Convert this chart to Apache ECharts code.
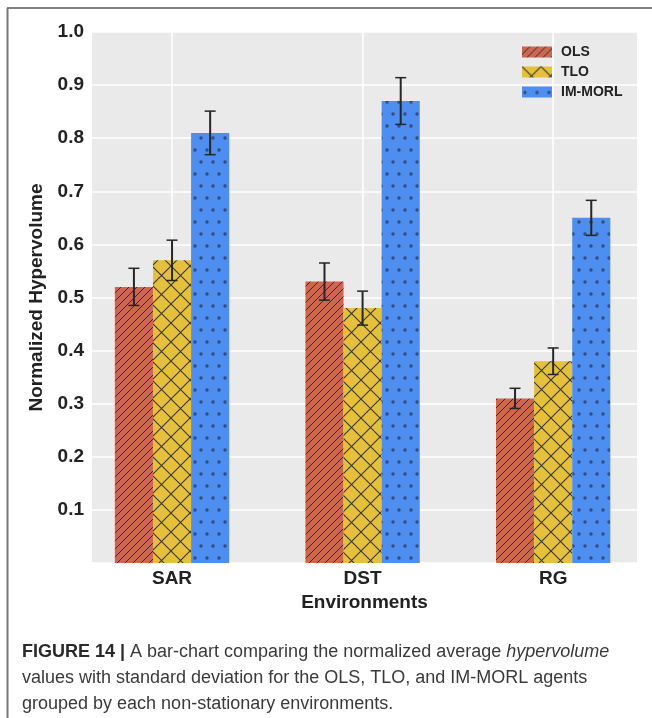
<!DOCTYPE html>
<html>
<head>
<meta charset="utf-8">
<script src="https://cdn.jsdelivr.net/npm/echarts@6/dist/echarts.min.js"></script>
<style>
html,body{margin:0;padding:0;background:#fff;}
#chart{width:652px;height:718px;}
</style>
</head>
<body>
<div id="chart"></div>
<script>
// ---- data ----
const categories = ['SAR', 'DST', 'RG'];
const seriesNames = ['OLS', 'TLO', 'IM-MORL'];
const olsMean = [0.52, 0.53, 0.31];
const olsStd = [0.035, 0.035, 0.019];
const tloMean = [0.57, 0.48, 0.38];
const tloStd = [0.038, 0.032, 0.025];
const imMean = [0.81, 0.87, 0.65];
const imStd = [0.041, 0.044, 0.033];
const yTicks = [0.1, 0.2, 0.3, 0.4, 0.5, 0.6, 0.7, 0.8, 0.9, 1.0];

// ---- hatch patterns ----
function makeTile(w, h, bg, draw) {
  const c = document.createElement('canvas');
  c.width = w; c.height = h;
  const g = c.getContext('2d');
  g.fillStyle = bg; g.fillRect(0, 0, w, h);
  g.strokeStyle = 'rgba(40,40,40,0.9)';
  g.lineWidth = 1;
  draw(g, w, h);
  return { image: c, repeat: 'repeat' };
}
const olsPattern = makeTile(8, 8, '#cb6651', function (g, s) {
  g.beginPath();
  g.moveTo(-1, s + 1); g.lineTo(s + 1, -1);
  g.moveTo(-1, 1); g.lineTo(1, -1);
  g.moveTo(s - 1, s + 1); g.lineTo(s + 1, s - 1);
  g.stroke();
});
const tloPattern = makeTile(19, 19, '#e5c03d', function (g, s) {
  g.lineWidth = 1.1;
  g.beginPath();
  g.moveTo(-1, s + 1); g.lineTo(s + 1, -1);
  g.moveTo(-1, -1); g.lineTo(s + 1, s + 1);
  g.stroke();
});
const imPattern = makeTile(12, 24, '#4f8ef1', function (g) {
  g.fillStyle = '#2d4470';
  [[3, 6], [9, 18]].forEach(function (p) {
    g.beginPath(); g.arc(p[0], p[1], 1.7, 0, Math.PI * 2); g.fill();
  });
  g.fillStyle = '#4f7fcf';
  [[3, 6], [9, 18]].forEach(function (p) {
    g.beginPath(); g.arc(p[0], p[1], 0.6, 0, Math.PI * 2); g.fill();
  });
});
const patterns = [olsPattern, tloPattern, imPattern];
const means = [olsMean, tloMean, imMean];
const stds = [olsStd, tloStd, imStd];
const offsets = [-0.2, 0, 0.2];
const barW = 0.2;

function makeSeries(k) {
  const data = categories.map(function (c, i) { return [i, means[k][i], stds[k][i]]; });
  return {
    name: seriesNames[k],
    type: 'custom',
    itemStyle: { color: patterns[k] },
    encode: { x: 0, y: 1 },
    data: data,
    z: 3 + k,
    renderItem: function (params, api) {
      const x = api.value(0) + offsets[k];
      const y = api.value(1);
      const sd = api.value(2);
      const p0 = api.coord([x - barW / 2, y]);
      const p1 = api.coord([x + barW / 2, 0]);
      const top = api.coord([x, y + sd]);
      const bot = api.coord([x, y - sd]);
      const cap = 5.5;
      return {
        type: 'group',
        children: [
          { type: 'rect', shape: { x: p0[0], y: p0[1], width: p1[0] - p0[0], height: p1[1] - p0[1] },
            style: { fill: patterns[k] } },
          { type: 'line', shape: { x1: top[0], y1: top[1], x2: bot[0], y2: bot[1] },
            style: { stroke: '#262626', lineWidth: 2 }, z2: 10 },
          { type: 'line', shape: { x1: top[0] - cap, y1: top[1], x2: top[0] + cap, y2: top[1] },
            style: { stroke: '#262626', lineWidth: 1.5 }, z2: 10 },
          { type: 'line', shape: { x1: bot[0] - cap, y1: bot[1], x2: bot[0] + cap, y2: bot[1] },
            style: { stroke: '#262626', lineWidth: 1.5 }, z2: 10 }
        ]
      };
    }
  };
}

const chart = echarts.init(document.getElementById('chart'), null, { renderer: 'canvas' });
const FONT = '"Liberation Sans", Arial, sans-serif';
chart.setOption({
  animation: false,
  backgroundColor: '#ffffff',
  textStyle: { fontFamily: FONT },
  grid: { left: 92, right: 15, top: 32, bottom: 155, show: true, backgroundColor: '#eaeaea', borderWidth: 0 },
  legend: {
    data: seriesNames,
    orient: 'vertical',
    left: 517, top: 40,
    icon: 'rect',
    itemWidth: 30, itemHeight: 11, itemGap: 6,
    textStyle: { fontFamily: FONT, fontWeight: 'bold', fontSize: 14, color: '#222', padding: [0, 0, 0, 4] }
  },
  xAxis: {
    type: 'value',
    min: -0.42, max: 2.44,
    name: 'Environments',
    nameLocation: 'middle',
    nameGap: 27,
    nameTextStyle: { fontFamily: FONT, fontWeight: 'bold', fontSize: 19, color: '#222' },
    axisLine: { show: false },
    axisTick: { show: false, customValues: [0, 1, 2] },
    axisLabel: {
      customValues: [0, 1, 2],
      formatter: function (v) { return categories[Math.round(v)]; },
      fontFamily: FONT, fontWeight: 'bold', fontSize: 19, color: '#222', margin: 6
    },
    splitLine: { show: true, lineStyle: { color: '#ffffff', width: 1.5 } }
  },
  yAxis: {
    type: 'value',
    min: 0, max: 1, interval: 0.1,
    name: 'Normalized Hypervolume',
    nameLocation: 'middle',
    nameGap: 39,
    nameTextStyle: { fontFamily: FONT, fontWeight: 'bold', fontSize: 19, color: '#222' },
    axisLine: { show: false },
    axisTick: { show: false },
    axisLabel: {
      formatter: function (v) {
        const t = yTicks.find(function (q) { return Math.abs(q - v) < 1e-6; });
        return t === undefined ? '' : t.toFixed(1);
      },
      fontFamily: FONT, fontWeight: 'bold', fontSize: 19, color: '#222', margin: 8
    },
    splitLine: { show: true, lineStyle: { color: '#ffffff', width: 1.5 } }
  },
  series: [makeSeries(0), makeSeries(1), makeSeries(2)],
  graphic: [
    { type: 'line', shape: { x1: 7, y1: 8, x2: 652, y2: 8 }, style: { stroke: '#555', lineWidth: 1.5 } },
    { type: 'line', shape: { x1: 7.5, y1: 8, x2: 7.5, y2: 718 }, style: { stroke: '#777', lineWidth: 2 } },
    {
      type: 'text', left: 22, top: 639,
      style: {
        text: '{b|FIGURE 14 |} A bar-chart comparing the normalized average {i|hypervolume}\nvalues with standard deviation for the OLS, TLO, and IM-MORL agents\ngrouped by each non-stationary environments.',
        fontFamily: FONT, fontSize: 18, fill: '#3a3a3a', lineHeight: 26,
        rich: {
          b: { fontFamily: FONT, fontWeight: 'bold', fontSize: 18, fill: '#2a2a2a', lineHeight: 26 },
          i: { fontFamily: FONT, fontStyle: 'italic', fontSize: 18, fill: '#3a3a3a', lineHeight: 26 }
        }
      }
    }
  ]
});
</script>
</body>
</html>
